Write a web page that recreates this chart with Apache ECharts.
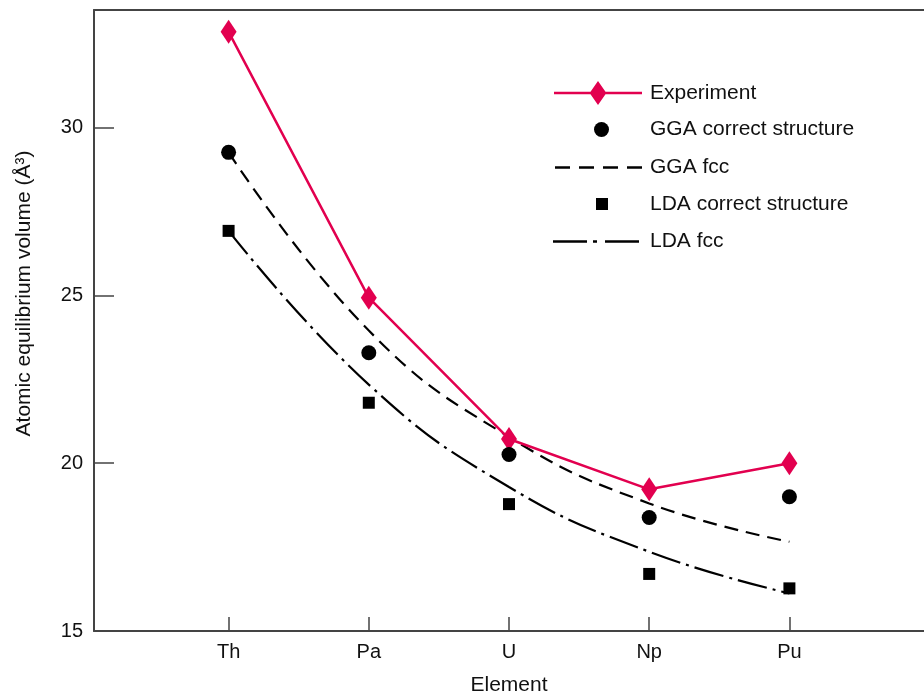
<!DOCTYPE html>
<html>
<head>
<meta charset="utf-8">
<script src="https://cdn.jsdelivr.net/npm/echarts@6/dist/echarts.min.js"></script>
<style>
  html, body { margin: 0; padding: 0; background: #fff; }
  #main { width: 924px; height: 692px; }
</style>
</head>
<body>
<div id="main"></div>
<script>
// elements on the x axis (positions 1..5)
var elements = ['Th', 'Pa', 'U', 'Np', 'Pu'];
var xPos = [1, 2, 3, 4, 5];
var yTicks = [15, 20, 25, 30];

// atomic volumes
var experiment = [32.85, 24.93, 20.72, 19.22, 20.0];
var ggaCorrect = [29.26, 23.29, 20.26, 18.38, 19.0];
var ggaFcc     = [29.26, 23.95, 20.78, 18.80, 17.66];
var ldaCorrect = [26.92, 21.80, 18.78, 16.70, 16.27];
var ldaFcc     = [26.92, 22.34, 19.29, 17.36, 16.12];

function pairs(ys) {
  return xPos.map(function (x, i) { return [x, ys[i]]; });
}

var red = '#e2004f';
var axisColor = '#444';
var font = 'Liberation Sans, Arial, sans-serif';

var chartDom = document.getElementById('main');
var myChart = echarts.init(chartDom);

// one legend box per entry so each icon can have its own size / place
// text always starts at x = 650
function legendItem(name, left, centerY, w, h, icon) {
  return {
    data: [{ name: name, icon: icon }],
    left: left,
    top: centerY - Math.max(h, 21) / 2,
    padding: 0,
    itemWidth: w,
    itemHeight: h,
    textStyle: { fontFamily: font, fontSize: 21, color: '#111', padding: [4, 0, 0, 650 - left - w - 5] },
    selectedMode: false
  };
}

var option = {
  backgroundColor: '#fff',
  animation: false,
  grid: { left: 94, right: 0, top: 10, bottom: 61, containLabel: false, outerBoundsMode: 'none' },
  legend: [
    legendItem('Experiment', 554, 93, 88, 24,
      'path://M0,10.75 L36.5,10.75 L44,0 L51.5,10.75 L88,10.75 L88,13.25 L51.5,13.25 L44,24 L36.5,13.25 L0,13.25 Z'),
    legendItem('GGA correct structure', 594, 129.5, 15, 15, 'circle'),
    legendItem('GGA fcc', 555, 167.5, 87, 2.4,
      'path://M0,0 L15,0 L15,2.4 L0,2.4 Z M24,0 L39,0 L39,2.4 L24,2.4 Z M48,0 L63,0 L63,2.4 L48,2.4 Z M72,0 L87,0 L87,2.4 L72,2.4 Z'),
    legendItem('LDA correct structure', 596, 204, 12, 12, 'rect'),
    legendItem('LDA fcc', 553, 241.5, 86, 2.4,
      'path://M0,0 L34,0 L34,2.4 L0,2.4 Z M40,0 L44,0 L44,2.4 L40,2.4 Z M52,0 L86,0 L86,2.4 L52,2.4 Z')
  ],
  xAxis: [
    {
      type: 'value',
      min: 0.04,
      max: 5.96,
      name: 'Element',
      nameLocation: 'middle',
      nameGap: 44,
      nameTextStyle: { fontFamily: font, fontSize: 21, color: '#111' },
      axisLine: { show: true, lineStyle: { color: axisColor, width: 2 } },
      axisTick: { show: true, inside: true, length: 14, customValues: xPos, lineStyle: { color: axisColor, width: 1.5 } },
      axisLabel: {
        show: true, margin: 11, customValues: xPos,
        fontFamily: font, fontSize: 20, color: '#111',
        formatter: function (v) { return elements[Math.round(v) - 1] || ''; }
      },
      splitLine: { show: false }
    },
    {
      type: 'value',
      position: 'top',
      min: 0.04,
      max: 5.96,
      axisLine: { show: true, lineStyle: { color: axisColor, width: 2 } },
      axisTick: { show: false },
      axisLabel: { show: false },
      splitLine: { show: false }
    }
  ],
  yAxis: {
    type: 'value',
    min: 15,
    max: 33.5,
    name: 'Atomic equilibrium volume (Å³)',
    nameLocation: 'middle',
    nameGap: 59,
    nameTextStyle: { fontFamily: font, fontSize: 21, color: '#111', padding: [0, 0, 0, 54] },
    axisLine: { show: true, lineStyle: { color: axisColor, width: 2 } },
    axisTick: { show: true, inside: true, length: 20, customValues: yTicks, lineStyle: { color: axisColor, width: 1.5 } },
    axisLabel: { show: true, margin: 11, customValues: yTicks, fontFamily: font, fontSize: 20, color: '#111' },
    splitLine: { show: false }
  },
  series: [
    {
      name: 'GGA fcc',
      type: 'line',
      data: pairs(ggaFcc),
      smooth: 0.45,
      symbol: 'none',
      lineStyle: { color: '#000', width: 2.2, type: [14, 8] },
      itemStyle: { color: '#000' },
      z: 2
    },
    {
      name: 'LDA fcc',
      type: 'line',
      data: pairs(ldaFcc),
      smooth: 0.45,
      symbol: 'none',
      lineStyle: { color: '#000', width: 2.2, type: [30, 6, 3, 6] },
      itemStyle: { color: '#000' },
      z: 2
    },
    {
      name: 'Experiment',
      type: 'line',
      data: pairs(experiment),
      symbol: 'diamond',
      symbolSize: [16, 24],
      showAllSymbol: true,
      lineStyle: { color: red, width: 2.5 },
      itemStyle: { color: red, opacity: 1 },
      z: 4
    },
    {
      name: 'GGA correct structure',
      type: 'scatter',
      data: pairs(ggaCorrect),
      symbol: 'circle',
      symbolSize: 15,
      itemStyle: { color: '#000', opacity: 1 },
      z: 5
    },
    {
      name: 'LDA correct structure',
      type: 'scatter',
      data: pairs(ldaCorrect),
      symbol: 'rect',
      symbolSize: 12,
      itemStyle: { color: '#000', opacity: 1 },
      z: 5
    }
  ]
};

myChart.setOption(option);
window.addEventListener('resize', function () {
  myChart.resize();
});
</script>
</body>
</html>
